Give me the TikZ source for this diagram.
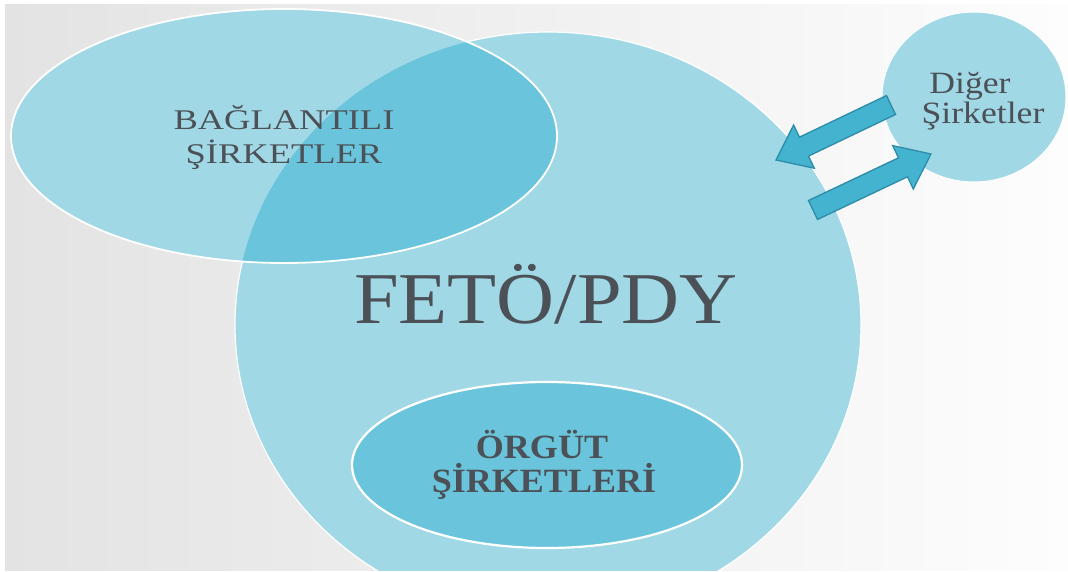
\documentclass[tikz,border=0pt]{standalone}
\usepackage{fontspec}
\setmainfont{Liberation Serif}
\usetikzlibrary{calc}
\definecolor{bgL}{HTML}{E3E3E3}
\definecolor{bgR}{HTML}{FDFDFD}
\definecolor{blobA}{HTML}{A0D8E6}
\definecolor{blobB}{HTML}{6AC5DC}
\definecolor{arrF}{HTML}{43B3D0}
\definecolor{arrD}{HTML}{2D8CA6}
\definecolor{txt}{HTML}{4B5156}
\newcommand{\mybarrow}[3]{%
  \coordinate (#3) at ($(#2)!31pt!(#1)$);
  \draw[blockarrow]
    ($(#1)!10.5pt!90:(#2)$) -- ($(#3)!10.5pt!90:(#2)$) -- ($(#3)!24pt!90:(#2)$) --
    (#2) --
    ($(#3)!24pt!-90:(#2)$) -- ($(#3)!10.5pt!-90:(#2)$) -- ($(#1)!10.5pt!-90:(#2)$) -- cycle;}
\begin{document}
\begin{tikzpicture}[x=1pt,y=-1pt,
  lbl/.style={text=txt, inner sep=0pt, anchor=base},
  blockarrow/.style={fill=arrF, draw=arrD, line width=1.3pt, line join=miter}]
\useasboundingbox (0,0) rectangle (1068,571);
\fill[white] (0,0) rectangle (1068,571);
\shade[left color=bgL, right color=bgR] (5,4) rectangle (1068,570);
\begin{scope}
  \clip (5,4) rectangle (1068,570);
  % main circle
  \coordinate (fc) at (548,325);
  \fill[blobA] (fc) ellipse [x radius=313pt, y radius=293pt];
  \draw[white, line width=1.2pt] (fc) ellipse [x radius=313pt, y radius=293pt];
  % connected companies
  \coordinate (bc) at (284,136);
  \fill[blobA] (bc) ellipse [x radius=273pt, y radius=127pt];
  \begin{scope}
    \clip (fc) ellipse [x radius=313pt, y radius=293pt];
    \fill[blobB] (bc) ellipse [x radius=273pt, y radius=127pt];
  \end{scope}
  \draw[white, line width=1.8pt] (bc) ellipse [x radius=273pt, y radius=127pt];
  % organisation companies
  \coordinate (oc) at (547,465);
  \fill[blobB, draw=white, line width=2.2pt] (oc) ellipse [x radius=195pt, y radius=83pt];
  % other companies
  \coordinate (dc) at (974,97);
  \fill[blobA, draw=white, line width=1pt] (dc) ellipse [x radius=92pt, y radius=85pt];
\end{scope}
% arrows
\coordinate (a1t) at (891,105);
\coordinate (a1p) at (776,160);
\coordinate (a2t) at (813,210);
\coordinate (a2p) at (931,154);
\mybarrow{a1t}{a1p}{a1b}
\mybarrow{a2t}{a2p}{a2b}
% texts
\node[lbl, font=\fontsize{28.5}{34}\selectfont] (bag1) at (284,129) {\scalebox{1.28}[1]{BAĞLANTILI}};
\node[lbl, font=\fontsize{28.5}{34}\selectfont] (bag2) at (284,163) {\scalebox{1.28}[1]{ŞİRKETLER}};
\node[lbl, font=\fontsize{73}{80}\selectfont] (feto) at (546,323) {\scalebox{1.1}[1]{FETÖ/PDY}};
\node[lbl, font=\fontsize{34}{40}\selectfont\bfseries] (org1) at (542,458) {\scalebox{1.06}[1]{ÖRGÜT}};
\node[lbl, font=\fontsize{34}{40}\selectfont\bfseries] (org2) at (544,492) {\scalebox{1.06}[1]{ŞİRKETLERİ}};
\node[lbl, font=\fontsize{31}{36}\selectfont] (dig1) at (970,93) {\scalebox{1.15}[1]{Diğer}};
\node[lbl, font=\fontsize{31}{36}\selectfont] (dig2) at (983,123) {\scalebox{1.15}[1]{Şirketler}};
\end{tikzpicture}
\end{document}
